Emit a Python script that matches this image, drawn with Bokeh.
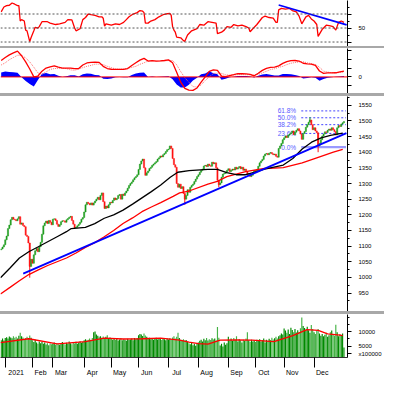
from bokeh.plotting import figure
from bokeh.layouts import column
from bokeh.models import Range1d, FixedTicker, Span, Div, ColumnDataSource
from bokeh.embed import file_html
from bokeh.resources import INLINE
from bokeh.core.properties import value

# ---------------- data (trading-day index: 0 = 4 Jan 2021) ----------------
month_labels = ["2021", "Feb", "Mar", "Apr", "May", "Jun", "Jul", "Aug", "Sep", "Oct", "Nov", "Dec"]
month_start_idx = [0, 20, 35, 58, 78, 98, 120, 142, 164, 184, 205, 227]

first_open = 1088
close_dec20 = [1091, 1097, 1104]
close_jan = [1120, 1132, 1156, 1167, 1184, 1192, 1186, 1184, 1181, 1187, 1194, 1170, 1174, 1166, 1162, 1135, 1131, 1110, 1035, 1058]
close_feb = [1045, 1072, 1085, 1092, 1082, 1098, 1112, 1138, 1165, 1174, 1180, 1172, 1182, 1176, 1168]
close_mar = [1186, 1187, 1182, 1170, 1163, 1168, 1178, 1181, 1180, 1176, 1184, 1188, 1192, 1195, 1182, 1170, 1158, 1160, 1165, 1170, 1176, 1186, 1191]
close_apr = [1209, 1232, 1240, 1236, 1232, 1238, 1231, 1238, 1244, 1250, 1256, 1248, 1262, 1270, 1242, 1220, 1228, 1222, 1232, 1240]
close_may = [1238, 1246, 1254, 1248, 1252, 1262, 1265, 1250, 1266, 1262, 1270, 1276, 1285, 1294, 1300, 1305, 1312, 1318, 1322, 1328]
close_jun = [1345, 1362, 1372, 1378, 1350, 1326, 1334, 1340, 1348, 1352, 1358, 1362, 1366, 1370, 1378, 1382, 1388, 1385, 1392, 1396, 1402, 1408]
close_jul = [1410, 1420, 1412, 1380, 1360, 1352, 1300, 1288, 1298, 1284, 1290, 1268, 1250, 1262, 1280, 1272, 1288, 1294, 1298, 1306, 1314, 1322]
close_aug = [1328, 1336, 1342, 1346, 1356, 1358, 1354, 1362, 1357, 1355, 1368, 1363, 1366, 1350, 1310, 1296, 1302, 1320, 1330, 1332, 1336, 1342]
close_sep = [1347, 1338, 1342, 1346, 1343, 1352, 1346, 1350, 1354, 1347, 1352, 1342, 1346, 1338, 1328, 1332, 1322, 1326, 1334, 1342]
close_oct = [1338, 1345, 1355, 1366, 1372, 1377, 1388, 1394, 1396, 1392, 1397, 1399, 1395, 1392, 1394, 1387, 1384, 1412, 1420, 1428, 1440]
close_nov = [1446, 1452, 1447, 1455, 1458, 1462, 1468, 1456, 1464, 1470, 1475, 1468, 1458, 1441, 1460, 1466, 1480, 1488, 1496, 1503, 1488, 1472]
close_dec = [1478, 1468, 1462, 1420, 1428, 1440, 1452, 1458, 1465, 1463, 1470, 1474, 1470, 1478, 1472, 1466, 1455, 1478, 1485, 1482, 1490, 1494, 1498]

vol_dec20 = [7000, 7600, 6900]
vol_jan = [7800, 8100, 7600, 8300, 8000, 7700, 8400, 7900, 8200, 7600, 8600, 9600, 8400, 8000, 7400, 7800, 8200, 7500, 8700, 7900]
vol_feb = [7000, 6400, 7200, 6200, 5800, 6600, 6000, 6500, 5800, 6200, 5500, 6000, 5300, 5900, 5600]
vol_mar = [5800, 6200, 5400, 6000, 5600, 5400, 5900, 6400, 5700, 5500, 6100, 5800, 6600, 6000, 5600, 6300, 5900, 6500, 5800, 6200, 6700, 6100, 6400]
vol_apr = [7000, 7400, 6900, 7200, 7600, 7000, 7800, 9800, 10100, 9000, 8600, 8200, 8400, 7900, 8300, 7800, 8200, 8800, 7600, 8000]
vol_may = [7600, 7200, 7800, 7100, 7500, 6900, 7300, 7700, 7000, 7400, 7200, 6800, 7500, 7100, 7300, 7600, 7000, 7800, 7400, 7700]
vol_jun = [8800, 9200, 9000, 8500, 9400, 8700, 8200, 7600, 7900, 7400, 7800, 7200, 7600, 7900, 7300, 7700, 7500, 7100, 7800, 7400, 7000, 7600]
vol_jul = [7300, 7700, 7100, 8000, 8400, 7600, 8200, 9600, 7800, 7200, 6800, 7400, 6900, 7100, 6500, 6000, 5600, 6200, 5300, 5800, 5100, 5900]
vol_aug = [6200, 6800, 7200, 6600, 7500, 7000, 7800, 6900, 7400, 7100, 7700, 7300, 7600, 6900, 11600, 7900, 5200, 5800, 4800, 6200, 5400, 6000]
vol_sep = [8200, 7000, 7600, 6800, 7800, 7200, 8400, 6600, 7400, 7000, 6200, 7200, 6800, 7600, 9800, 7000, 6400, 7200, 6600, 7000]
vol_oct = [6400, 7200, 6800, 7400, 6600, 7000, 7600, 6200, 7200, 6800, 7500, 7000, 7900, 7300, 7700, 8200, 7600, 8400, 8800, 9400, 9000]
vol_nov = [11100, 10400, 9600, 10800, 9200, 11400, 10600, 9800, 10900, 9700, 10500, 9900, 11200, 15000, 12000, 11300, 10700, 11700, 10500, 9600, 12300, 10900]
vol_dec = [9800, 9200, 10400, 10900, 9400, 8600, 9200, 8400, 8900, 9600, 8200, 8800, 9800, 10400, 9000, 8600, 12400, 9800, 8400, 9200, 8700, 9400, 4500]
vol_unit_label = "x100000"

# a few visible wicks (day index, low end, high end)
wick_x = [18, 132, 157, 224, 230]
wick_lo = [999, 1232, 1288, 1496, 1400]
wick_hi = [1110, 1268, 1310, 1512, 1462]

# moving averages (vertices)
ma_black_x = [-3.5, 3.5, 10.4, 17.3, 24.3, 31.2, 38.1, 45, 48.5, 58.9, 65.8, 72.8, 79.7, 86.6, 93.6, 100.5, 107.4, 114.3, 121.3, 126.8, 135.1, 149, 155.9, 162.9, 169.8, 176.7, 183.6, 190.6, 204.4, 211.4, 218.3, 225.2, 232.2, 239.1, 248.1]
ma_black_y = [999, 1030, 1062, 1082, 1098, 1114, 1130, 1146, 1156, 1160, 1172, 1189, 1200, 1215, 1234, 1254, 1274, 1295, 1320, 1336, 1341, 1345, 1345, 1335, 1328, 1328, 1336, 1346, 1359, 1380, 1410, 1432, 1446, 1454, 1461]
ma_red_x = [-3.5, 3.5, 10.4, 17.3, 24.3, 31.2, 38.1, 45, 52, 58.9, 65.8, 72.8, 79.7, 86.6, 93.6, 100.5, 107.4, 114.3, 123.4, 128.2, 135.1, 149, 155.9, 162.9, 176.7, 190.6, 204.4, 218.3, 232.2, 241.2, 248.1]
ma_red_y = [947, 968, 989, 1009, 1024, 1038, 1050, 1062, 1078, 1096, 1111, 1130, 1150, 1172, 1190, 1210, 1225, 1239, 1259, 1270, 1276, 1298, 1307, 1322, 1338, 1348, 1351, 1366, 1387, 1400, 1409]
trend_x = [13.2, 250.8]
trend_y = [1012, 1461]

fib_labels = ["0.0%", "23.6%", "38.2%", "50.0%", "61.8%"]
fib_values = [1416, 1460, 1488, 1510, 1532]
fib_x_start = 217.6
fib_x_end = 250.5
fib_label_x = 213.8

vol_ma_x = [-3.5, 17.3, 38.1, 58.9, 72.8, 86.6, 100.5, 114.3, 128.2, 135.1, 142.1, 149, 158, 169.8, 181.6, 197.5, 211.4, 221.8, 230.1, 237, 246, 248.1]
vol_ma_y = [6170, 7540, 5720, 6540, 7720, 7450, 7540, 7720, 7085, 6360, 5800, 5630, 7085, 7100, 7085, 6540, 8630, 10720, 10450, 9270, 8810, 8600]

rsi_x = [-3, -1, 1, 3, 5, 7, 9, 10, 11, 12, 14, 15, 16, 18, 19, 21, 22, 24, 25, 27, 29, 31, 33, 37, 40, 44, 46, 49, 51, 52, 55, 57, 59, 61, 63, 66, 69, 71, 72, 73, 74, 78, 81, 84, 87, 89, 91, 94, 97, 99, 101, 102, 103, 105, 107, 110, 113, 116, 118, 121, 122, 123, 124, 125, 126, 129, 131, 132, 134, 137, 141, 143, 146, 149, 152, 155, 156, 159, 161, 163, 166, 168, 171, 174, 177, 179, 180, 182, 185, 187, 189, 191, 194, 197, 199, 200, 201, 203, 206, 209, 211, 214, 216, 218, 221, 223, 225, 227, 229, 230, 233, 234, 236, 239, 241, 243, 245, 247, 249]
rsi_y = [73, 80, 82, 82.5, 85.7, 84, 82, 82, 60, 62, 60, 47, 46, 30.5, 36.5, 46, 51, 50, 52, 59, 59, 59, 57, 55, 56, 58, 62, 61.5, 50, 46, 49, 62, 65, 70, 69, 68, 66, 66, 64, 52.5, 56, 54, 56, 55, 58, 62, 66, 70, 72, 75, 74, 72, 57, 57, 60, 62, 66, 69, 70, 71, 68, 52, 47, 44, 37, 36, 32, 31, 40, 46, 49, 55, 54, 59, 58, 57, 42, 44, 47, 52, 51, 55, 53, 54, 52, 50, 44.6, 49, 55, 60, 65, 67, 65, 64, 58, 58, 76, 78, 77, 78, 75, 73, 67, 56, 66, 68, 63, 60, 55, 38, 48, 50, 54, 53, 52, 47, 58, 60, 58]
rsi_guides = [30, 50, 70]
rsi_trend_x = [201, 251]
rsi_trend_y = [83, 54.5]

macd_x = list(range(-3, 250, 3))
macd_line = [18.5, 22, 25, 27.3, 29.3, 24, 17, 9, 0, 1, 6.5, 10, 11.5, 12.6, 11, 10, 10, 10, 9.3, 9.5,
             13.5, 15.8, 16.5, 16.8, 16.5, 12, 9.5, 8.7, 8.5, 8.5, 8.5, 9.5, 13, 16, 19, 21, 18, 18.5, 18, 18.2,
             18.6, 19.3, 16, 5.3, -6, -13, -15, -15.2, -12.5, -6, 0, 6.3, 8, 7.3, 0.8, 0.2, 1.5, 2.5, 3.6, 3.6,
             3.4, 2.8, 1.3, 4.2, 7.4, 9.6, 10.8, 11, 12.5, 15.3, 17.4, 18.4, 18.6, 18, 15.5, 14.8, 14.5, 13, 6.7, 4,
             4.5, 4.5, 4.7, 5.6, 6.5]
macd_signal = [13.5, 16, 19.5, 22, 24.5, 24.5, 21.5, 17, 11, 4.5, 3, 5.6, 8.5, 9.4, 9.8, 10, 9.3, 8, 7.5, 9,
               10.5, 12, 13, 14.5, 14.5, 14, 12, 10.5, 9, 8.7, 9, 9.8, 10.8, 12, 14.3, 16, 18, 18, 18, 18,
               18.2, 18.5, 18.6, 13.8, 6, -1, -6, -11, -11.5, -9, -4, 0, 3.9, 4.2, 4, 2.4, 2, 2.2, 2.6, 2.6,
               2.5, 2.4, 2.1, 2.8, 4.6, 6.4, 8.3, 9.3, 10.8, 12, 14, 15.5, 16.3, 17, 17.2, 16, 15, 14, 11, 6.5,
               5.5, 4.8, 4.6, 5, 5.6]

# ---------------- assemble series ----------------
closes = (close_dec20 + close_jan + close_feb + close_mar + close_apr + close_may + close_jun +
          close_jul + close_aug + close_sep + close_oct + close_nov + close_dec)
volumes = (vol_dec20 + vol_jan + vol_feb + vol_mar + vol_apr + vol_may + vol_jun +
           vol_jul + vol_aug + vol_sep + vol_oct + vol_nov + vol_dec)
n = min(len(closes), len(volumes))
closes = closes[:n]
volumes = volumes[:n]
day_idx = list(range(-3, -3 + n))
opens = [first_open] + closes[:-1]
up = [c >= o for o, c in zip(opens, closes)]
UP_C, DN_C = "#199a19", "#ff1010"
candle_src = ColumnDataSource(dict(
    x=day_idx,
    top=[max(o, c) for o, c in zip(opens, closes)],
    bottom=[min(o, c) for o, c in zip(opens, closes)],
    color=[UP_C if u else DN_C for u in up],
))
pos = {d: k for k, d in enumerate(day_idx)}
wick_src = ColumnDataSource(dict(
    x=wick_x, y0=wick_lo, y1=wick_hi,
    color=[UP_C if up[pos[w]] else DN_C for w in wick_x],
))
vol_src = ColumnDataSource(dict(
    x=day_idx, top=volumes,
    color=["#008a00" if u else "#45b245" for u in up],
))
hist = [m - s for m, s in zip(macd_line, macd_signal)]

# ---------------- layout helpers ----------------
W = 384
RIGHT = 32
FONT = "Liberation Sans"
XR = Range1d(-3.5, 251.6)


def make_fig(h, y0, y1, bottom=0):
    p = figure(width=W, height=h, x_range=XR, y_range=Range1d(y0, y1),
               y_axis_location="right",
               x_axis_location=("below" if bottom else None),
               toolbar_location=None, output_backend="svg", title=None,
               min_border_left=0, min_border_right=RIGHT,
               min_border_top=0, min_border_bottom=bottom)
    p.xgrid.visible = False
    p.ygrid.visible = False
    p.outline_line_color = None
    p.background_fill_color = "white"
    p.border_fill_color = "white"
    ax = p.yaxis[0]
    ax.axis_line_color = "black"
    ax.major_tick_out = 4
    ax.major_tick_in = 0
    ax.minor_tick_out = 2
    ax.minor_tick_in = 0
    ax.major_label_standoff = 7
    ax.major_label_text_font = FONT
    ax.major_label_text_font_size = "6px"
    ax.major_label_text_color = "black"
    return p


def sep(h):
    return Div(text="", width=W, height=h, margin=(0, 0, 0, 0),
               styles={"background-color": "#a8a8a8"})


# ---------------- RSI ----------------
pr = make_fig(46, 23.6, 89.3)
for lv in rsi_guides:
    pr.add_layout(Span(location=lv, dimension="width", line_color="#555555",
                       line_dash="2 2", line_width=1))
pr.line(rsi_x, rsi_y, line_color="#ff0000", line_width=1.3)
pr.line(rsi_trend_x, rsi_trend_y, line_color="#0000ff", line_width=1.6)
pr.yaxis[0].ticker = FixedTicker(ticks=[30, 50, 70], minor_ticks=[40, 60, 80])
pr.yaxis[0].major_label_overrides = {30: "", 70: ""}

# ---------------- MACD ----------------
pm = make_fig(45, -18.8, 32.2)
pm.varea(x=macd_x, y1=0, y2=hist, fill_color="#0000ff")
pm.add_layout(Span(location=0, dimension="width", line_color="#ff0000", line_width=1))
pm.line(macd_x, macd_signal, line_color="#ff7070", line_dash="1 1", line_width=1)
pm.line(macd_x, macd_line, line_color="#ff0000", line_width=1.3)
pm.yaxis[0].ticker = FixedTicker(ticks=[-10, 0, 10, 20, 30], minor_ticks=[])
pm.yaxis[0].major_label_overrides = {-10: "", 10: "", 20: "", 30: ""}

# ---------------- Price ----------------
pp = make_fig(215, 891, 1578)
pp.yaxis[0].ticker = FixedTicker(ticks=list(range(950, 1551, 50)),
                                 minor_ticks=list(range(925, 1576, 50)))
pp.segment(x0=[fib_x_start] * 4, x1=[fib_x_end] * 4, y0=fib_values[1:], y1=fib_values[1:],
           line_color="#4444ff", line_dash="2 2", line_width=1)
pp.segment(x0=[fib_x_start], x1=[fib_x_end], y0=fib_values[:1], y1=fib_values[:1],
           line_color="#9a9aff", line_width=2.2)
pp.text(x=[fib_label_x] * len(fib_values), y=fib_values, text=fib_labels,
        text_align="right", text_baseline="middle", text_font=value(FONT),
        text_font_size="6.5px", text_color="#5a5aff")
pp.segment(x0="x", x1="x", y0="y0", y1="y1", line_color="color", line_width=1, source=wick_src)
pp.vbar(x="x", top="top", bottom="bottom", width=0.85, fill_color="color",
        line_color="color", line_width=0.5, source=candle_src)
pp.line(ma_red_x, ma_red_y, line_color="#ff0000", line_width=1.3)
pp.line(ma_black_x, ma_black_y, line_color="#000000", line_width=1.3)
pp.line(trend_x, trend_y, line_color="#0000ff", line_width=1.8)

# ---------------- Volume ----------------
pv = make_fig(64, 985, 16010, bottom=11)
pv.vbar(x="x", top="top", bottom=0, width=0.85, fill_color="color", line_color=None, source=vol_src)
pv.line(vol_ma_x, vol_ma_y, line_color="#ff0000", line_width=1.3)
pv.yaxis[0].ticker = FixedTicker(ticks=[2300, 5000, 10000], minor_ticks=[7500, 12500, 15000])
pv.yaxis[0].major_label_overrides = {2300: vol_unit_label}

ppd = (W - RIGHT) / (XR.end - XR.start)
centers = []
for s, lab in zip(month_start_idx, month_labels):
    w = len(lab) * 0.58 * 7
    centers.append(int(round(s + (2.5 + w / 2) / ppd)))
xa = pv.xaxis[0]
xa.ticker = FixedTicker(ticks=centers, minor_ticks=month_start_idx)
xa.major_label_overrides = {c: lab for c, lab in zip(centers, month_labels)}
xa.major_tick_out = 0
xa.major_tick_in = 0
xa.major_tick_line_color = None
xa.minor_tick_out = 10
xa.minor_tick_in = 0
xa.minor_tick_line_color = "black"
xa.axis_line_color = "#333333"
xa.major_label_standoff = 1
xa.major_label_text_font = FONT
xa.major_label_text_font_size = "7px"
xa.major_label_text_color = "black"

layout = column(pr, sep(2), pm, sep(3), pp, sep(3), pv, spacing=0)
open("out.html", "w").write(file_html(layout, INLINE))
